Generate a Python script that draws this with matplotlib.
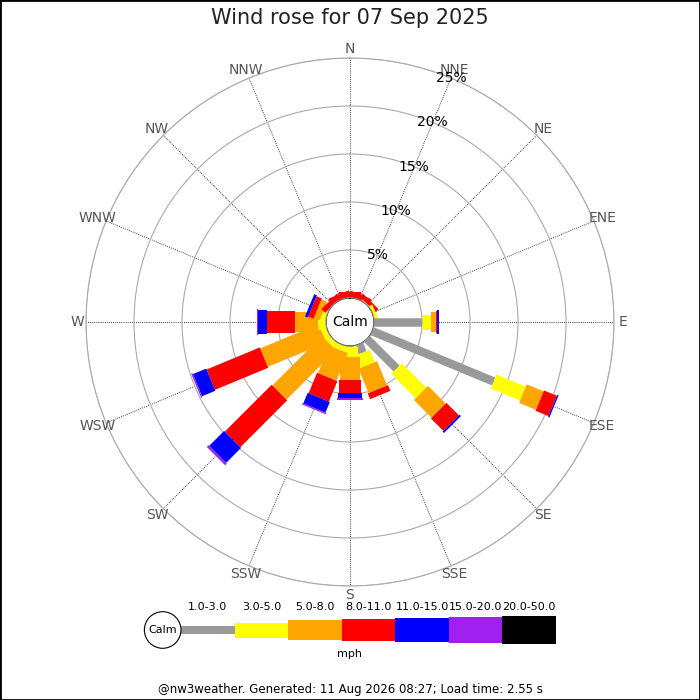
import numpy as np
import matplotlib
matplotlib.use("Agg")
import matplotlib.pyplot as plt
from matplotlib.patches import Circle, Ellipse, Rectangle

# Data (percent of the day, per direction, per speed bin)
directions = ["N", "NNE", "NE", "ENE", "E", "ESE", "SE", "SSE",
              "S", "SSW", "SW", "WSW", "W", "WNW", "NW", "NNW"]
speed_bins = ["1.0-3.0", "3.0-5.0", "5.0-8.0", "8.0-11.0",
              "11.0-15.0", "15.0-20.0", "20.0-50.0"]

pct_1_3 = [0, 0, 0, 0, 4.97, 13.7, 4.37, 0.96, 0, 0, 0, 0, 0, 0, 0, 0]
pct_3_5 = [0, 0, 0.1, 0.35, 0.97, 3.3, 3.59, 1.39, 1.11, 0.6, 0.6, 0.6, 0.8, 0.5, 0, 0]
pct_5_8 = [0, 0, 0, 0, 0.52, 1.9, 2.6, 2.74, 2.43, 3.1, 7.3, 6.6, 2.43, 0.65, 0, 0]
pct_8_11 = [0.6, 0.55, 0.45, 0, 0.1, 1.45, 1.84, 0.64, 1.39, 2.3, 6.9, 6.0, 2.95, 0.6, 0.55, 0.6]
pct_11_15 = [0, 0, 0, 0, 0.18, 0.15, 0.2, 0, 0.49, 1.2, 2.2, 1.5, 0.87, 0.3, 0, 0]
pct_15_20 = [0, 0, 0, 0, 0, 0, 0, 0, 0.21, 0.15, 0.25, 0.15, 0.1, 0, 0, 0]
pct_20_50 = [0] * 16

ring_pcts = [5, 10, 15, 20, 25]

# Styling
colours = ["#999999", "#ffff00", "#ffa500", "#ff0000", "#0000ff", "#a020f0", "#000000"]
widths_px = [8.5, 15, 20, 22, 24, 26, 28]
PX = 72 / 100  # points per pixel at dpi 100
CALM_R = 2.5   # calm circle radius in percent units

series = [pct_1_3, pct_3_5, pct_5_8, pct_8_11, pct_11_15, pct_15_20, pct_20_50]
thetas = np.radians(np.arange(16) * 22.5)

fig = plt.figure(figsize=(7, 7), dpi=100)
ax = fig.add_axes([86 / 700, 114 / 700, 528 / 700, 528 / 700], projection="polar")
ax.set_theta_zero_location("N")
ax.set_theta_direction(-1)
ax.set_ylim(0, 25)
ax.set_rorigin(-CALM_R)

ax.set_xticks(thetas)
ax.set_xticklabels([])
ax.set_yticks(ring_pcts)
ax.set_yticklabels([])
ax.xaxis.grid(True, color="black", linestyle=(0, (1, 1.5)), linewidth=0.6)
ax.yaxis.grid(True, color="#aaaaaa", linestyle="-", linewidth=0.8)
ax.spines["polar"].set_color("#aaaaaa")
ax.spines["polar"].set_linewidth(0.8)
for name in ("inner", "start", "end"):
    if name in ax.spines:
        ax.spines[name].set_visible(False)
ax.set_axisbelow(True)

# stacked bars, drawn as thick radial lines so their width stays constant
for d, th in enumerate(thetas):
    base = 0.0
    for b, vals in enumerate(series):
        v = vals[d]
        if v > 0:
            ax.plot([th, th], [base, base + v], color=colours[b],
                    linewidth=widths_px[b] * PX, solid_capstyle="butt", zorder=3)
        base += v

# calm circle
ax.add_patch(Circle((0.5, 0.5), CALM_R / (25 + CALM_R) / 2, transform=ax.transAxes,
                    facecolor="white", edgecolor="#999999", linewidth=1, zorder=5))
ax.text(0.5, 0.5, "Calm", transform=ax.transAxes, ha="center", va="center",
        fontsize=10, zorder=6)

# ring labels along NNE
for r in ring_pcts:
    ax.text(np.radians(22.5), r, f"{r}%", ha="center", va="center",
            fontsize=10, zorder=6)

# compass labels
for th, name in zip(thetas, directions):
    ax.text(th, 273 / 9.6 - CALM_R, name, ha="center", va="center",
            fontsize=10, color="#555555", clip_on=False)

# legend
lg = fig.add_axes([127.4 / 700, 30 / 700, 428.6 / 700, 80 / 700])
lg.set_xlim(-1, 7)
lg.set_ylim(-40, 40)
lg.axis("off")
for b, lab in enumerate(speed_bins):
    h = widths_px[b]
    lg.bar(b + 0.5, h, bottom=-h / 2, width=1, color=colours[b], linewidth=0)
    lg.text(b + 0.5, 23.5, lab, ha="center", va="center", fontsize=8)
lg.add_patch(Ellipse((-18.3 / 53.57, 0), 2 * 18.3 / 53.57, 36.6,
                     facecolor="white", edgecolor="black", linewidth=0.8))
lg.text(-18.3 / 53.57, 0, "Calm", ha="center", va="center", fontsize=8)
fig.text(0.5, 46 / 700, "mph", ha="center", va="center", fontsize=8)

fig.text(0.5, 1 - 17.5 / 700, "Wind rose for 07 Sep 2025", ha="center", va="center",
         fontsize=15, color="#222222")
fig.text(0.5, 10 / 700, "@nw3weather. Generated: 11 Aug 2026 08:27; Load time: 2.55 s",
         ha="center", va="center", fontsize=8.5)

fig.patches.append(Rectangle((0, 0), 1, 1, transform=fig.transFigure, fill=False,
                             edgecolor="black", linewidth=2))

fig.savefig("out.png", dpi=100)
